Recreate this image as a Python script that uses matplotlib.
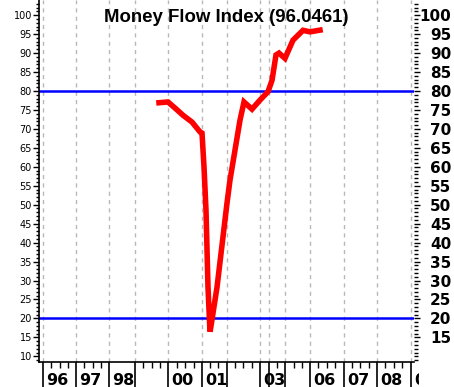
import matplotlib
matplotlib.use("Agg")
import matplotlib.pyplot as plt
import matplotlib.transforms as mtransforms

# x is a compressed time scale (chart units), years are unevenly spaced
year_ticks = [43, 76, 109, 135, 168, 202, 227, 260, 269, 285, 310, 344, 377, 411]
year_labels = ["96", "97", "98", "", "00", "01", "", "03", "", "", "06", "07", "08", "09"]
quarter_ticks = [51, 59.5, 68, 84, 92.5, 101, 143, 151.5, 160, 177, 185, 194,
                 210, 218, 235, 243, 252, 277, 294, 302, 318, 327, 335,
                 352, 360, 369, 385, 394, 402]

mfi_x = [159, 168, 175, 183, 192, 200, 202, 204, 206, 208, 210, 211, 217, 227,
         230, 240, 244, 252, 260, 268, 272, 276, 279, 285, 293, 303, 310, 320]
mfi_values = [76.9, 77.1, 75.5, 73.6, 71.8, 69.2, 68.9, 60.0, 48.5, 28.2, 16.5, 18.0,
              28.2, 50.4, 56.5, 72.3, 77.1, 75.2, 77.6, 79.8, 82.8, 89.5, 90.0,
              88.6, 93.4, 96.0, 95.6, 96.05]
last_value = 96.0461

overbought = 80
oversold = 20

fig = plt.figure(figsize=(4.54, 3.87), dpi=100)
ax = fig.add_axes([39 / 454, 1 - 362 / 387, 375 / 454, 362 / 387])
ax.set_xlim(39, 414)
ax.set_ylim(8.5, 104)

# vertical year grid
for xt in year_ticks:
    ax.axvline(xt, color="#b8b8b8", lw=1, ls=(0, (3, 3)), zorder=1)

ax.axhline(overbought, color="#0000ff", lw=1.8, zorder=2)
ax.axhline(oversold, color="#0000ff", lw=1.8, zorder=2)
ax.plot(mfi_x, mfi_values, color="#ff0000", lw=4.0, solid_joinstyle="miter", zorder=3)

ax.text(0.5, 1 - 22 / 362, f"Money Flow Index ({last_value})", transform=ax.transAxes,
        ha="center", va="baseline", fontsize=13.4, fontweight="bold",
        family="Liberation Sans", zorder=4)

for side in ["top", "right"]:
    ax.spines[side].set_visible(False)
ax.spines["left"].set_linewidth(1.2)
ax.spines["bottom"].set_linewidth(1.2)

# left axis: small labels
ax.set_yticks(range(10, 101, 5))
ax.set_yticks(range(9, 104), minor=True)
ax.tick_params(axis="y", which="major", length=4, width=1, labelsize=7, pad=1)
ax.tick_params(axis="y", which="minor", length=2, width=1)

# bottom axis: long year ticks, quarterly short ticks
ax.set_xticks(year_ticks)
ax.set_xticklabels([])
ax.set_xticks(quarter_ticks, minor=True)
ax.tick_params(axis="x", which="major", length=19, width=1.2)
ax.tick_params(axis="x", which="minor", length=4.5, width=1)
trans = mtransforms.blended_transform_factory(ax.transData, ax.transAxes)
clip = mtransforms.TransformedBbox(mtransforms.Bbox([[0, 0], [418.5 / 454, 1]]), fig.transFigure)
for xt, lab in zip(year_ticks, year_labels):
    if lab:
        t = ax.text(xt + 3, -23 / 362, lab, transform=trans, ha="left", va="baseline",
                    fontsize=11.5, fontweight="bold")
        t.set_clip_box(clip)
        t.set_clip_on(True)

# right axis: big bold labels
ax2 = ax.twinx()
ax2.set_ylim(ax.get_ylim())
for side in ["top", "left", "bottom", "right"]:
    ax2.spines[side].set_visible(False)
ax2.set_yticks(range(15, 101, 5))
ax2.set_yticks(range(9, 104), minor=True)
ax2.tick_params(axis="y", which="major", length=4, width=1, labelsize=11, pad=23)
ax2.tick_params(axis="y", which="minor", length=3, width=1)
for lbl in ax2.get_yticklabels():
    lbl.set_fontweight("bold")
    lbl.set_horizontalalignment("right")

fig.savefig("out.png", dpi=100)
